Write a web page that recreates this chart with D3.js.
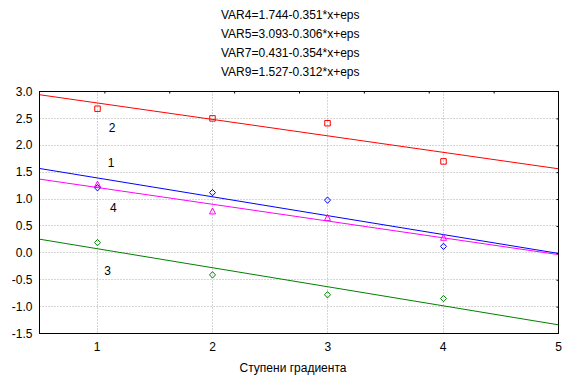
<!DOCTYPE html>
<html>
<head>
<meta charset="utf-8">
<script src="https://cdn.jsdelivr.net/npm/d3@7"></script>
<style>
    body { margin: 0; background: #fff; }
    svg { display: block; font-family: "Liberation Sans", Arial, sans-serif; }
    .grid line { stroke: #aaaaaa; stroke-dasharray: 1,2; }
</style>
</head>
<body>
<svg id="chart"></svg>
<script>
// gradient steps on the x axis
const gradientSteps = [1, 2, 3, 4];

// observed means per step
const var4Values = [1.21, 1.12, 0.98, 0.12];
const var5Values = [2.68, 2.50, 2.41, 1.70];
const var7Values = [0.19, -0.41, -0.78, -0.85];
const var9Values = [1.27, 0.77, 0.65, 0.28];

// fitted lines y = a + b*x
const seriesNames = ['VAR4', 'VAR5', 'VAR7', 'VAR9'];
const intercepts = [1.744, 3.093, 0.431, 1.527];
const slopes = [-0.351, -0.306, -0.354, -0.312];
const curveLabels = ['1', '2', '3', '4'];

const yTicks = [3.0, 2.5, 2.0, 1.5, 1.0, 0.5, 0.0, -0.5, -1.0, -1.5];
const xTicks = [1, 2, 3, 4, 5];

class regressionPlot {
    constructor(_config) {
        this.config = {
            parentElement: _config.parentElement,
            containerWidth: 576,
            containerHeight: 381,
            margin: { top: 91.5, right: 17.5, bottom: 47.5, left: 39.5 },
            xDomain: [0.5, 5],
            yDomain: [-1.5, 3.0],
            xLabel: 'Ступени градиента',
        };
        this.series = [
            { values: var4Values, color: '#0000ff', marker: 'diamond', labelAt: [1.12, 1.68] },
            { values: var5Values, color: '#ff0000', marker: 'square', labelAt: [1.13, 2.33] },
            { values: var7Values, color: '#008000', marker: 'diamond', labelAt: [1.09, -0.33] },
            { values: var9Values, color: '#ff00ff', marker: 'triangle', labelAt: [1.14, 0.84] },
        ].map((s, i) => ({ ...s, name: seriesNames[i], a: intercepts[i], b: slopes[i], label: curveLabels[i] }));
        this.initVis();
    }

    markerPath(type) {
        if (type === 'square') return 'M-2.75,-2.75H2.75V2.75H-2.75Z';
        if (type === 'triangle') return 'M0,-3.5L3,2.5H-3Z';
        return 'M0,-3.2L3,0L0,3.2L-3,0Z';
    }

    initVis() {
        let vis = this;
        const cfg = vis.config;

        vis.width = cfg.containerWidth - cfg.margin.left - cfg.margin.right;
        vis.height = cfg.containerHeight - cfg.margin.top - cfg.margin.bottom;

        vis.svg = d3.select(cfg.parentElement)
            .attr('width', cfg.containerWidth)
            .attr('height', cfg.containerHeight);

        vis.chart = vis.svg.append('g')
            .attr('transform', `translate(${cfg.margin.left}, ${cfg.margin.top})`);

        vis.xScale = d3.scaleLinear().domain(cfg.xDomain).range([0, vis.width]);
        vis.yScale = d3.scaleLinear().domain(cfg.yDomain).range([vis.height, 0]);

        // equations above the plot
        vis.svg.append('g')
            .selectAll('text')
            .data(vis.series)
            .join('text')
            .attr('x', 221)
            .attr('y', (d, i) => 18.5 + i * 19)
            .style('font-size', '12px')
            .text(d => `${d.name}=${d.a.toFixed(3)}-${Math.abs(d.b).toFixed(3)}*x+eps`);

        // dotted grid
        const grid = vis.chart.append('g').attr('class', 'grid');
        grid.selectAll('.hgrid')
            .data(yTicks.filter(t => t > cfg.yDomain[0] && t < cfg.yDomain[1]))
            .join('line')
            .attr('x1', 0).attr('x2', vis.width)
            .attr('y1', d => Math.round(vis.yScale(d)))
            .attr('y2', d => Math.round(vis.yScale(d)));
        grid.selectAll('.vgrid')
            .data(xTicks.filter(t => t < cfg.xDomain[1]))
            .join('line')
            .attr('y1', 0).attr('y2', vis.height)
            .attr('x1', d => Math.round(vis.xScale(d)))
            .attr('x2', d => Math.round(vis.xScale(d)));

        // fitted lines
        vis.chart.append('g')
            .selectAll('line')
            .data(vis.series)
            .join('line')
            .attr('x1', vis.xScale(cfg.xDomain[0]))
            .attr('x2', vis.xScale(cfg.xDomain[1]))
            .attr('y1', d => vis.yScale(d.a + d.b * cfg.xDomain[0]))
            .attr('y2', d => vis.yScale(d.a + d.b * cfg.xDomain[1]))
            .attr('stroke', d => d.color)
            .attr('stroke-width', 1);

        // observed points
        vis.series.forEach(s => {
            vis.chart.append('g')
                .selectAll('path')
                .data(s.values)
                .join('path')
                .attr('transform', (d, i) => `translate(${Math.round(vis.xScale(gradientSteps[i]))}, ${vis.yScale(d)})`)
                .attr('d', vis.markerPath(s.marker))
                .attr('fill', 'none')
                .attr('stroke', s.color)
                .attr('stroke-width', 1);
        });

        // curve numbers
        vis.chart.append('g')
            .selectAll('text')
            .data(vis.series)
            .join('text')
            .attr('x', d => vis.xScale(d.labelAt[0]))
            .attr('y', d => vis.yScale(d.labelAt[1]))
            .attr('dy', '0.35em')
            .attr('text-anchor', 'middle')
            .style('font-size', '12px')
            .text(d => d.label);

        // frame
        vis.chart.append('rect')
            .attr('width', vis.width)
            .attr('height', vis.height)
            .attr('fill', 'none')
            .attr('stroke', '#000');

        // small inner ticks on the right and top
        vis.chart.append('g')
            .attr('transform', `translate(${vis.width}, 0)`)
            .call(d3.axisLeft(vis.yScale).tickValues(yTicks.slice(1, -1)).tickSize(2).tickFormat(''))
            .call(g => g.select('.domain').remove());
        vis.topScale = d3.scaleLinear().domain([0, 8]).range([0, vis.width]);
        vis.chart.append('g')
            .call(d3.axisBottom(vis.topScale).tickValues(d3.range(1, 8)).tickSize(2).tickFormat(''))
            .call(g => g.select('.domain').remove());

        // y tick labels
        vis.chart.append('g')
            .selectAll('text')
            .data(yTicks)
            .join('text')
            .attr('x', -7)
            .attr('y', d => vis.yScale(d))
            .attr('dy', '0.35em')
            .attr('text-anchor', 'end')
            .style('font-size', '12px')
            .text(d => d.toFixed(1));

        // x tick labels
        vis.chart.append('g')
            .selectAll('text')
            .data(xTicks)
            .join('text')
            .attr('x', d => vis.xScale(d))
            .attr('y', vis.height + 13)
            .attr('dy', '0.35em')
            .attr('text-anchor', 'middle')
            .style('font-size', '12px')
            .text(d => d);

        vis.svg.append('text')
            .attr('x', 293)
            .attr('y', 368)
            .attr('dy', '0.35em')
            .attr('text-anchor', 'middle')
            .style('font-size', '12px')
            .text(cfg.xLabel);
    }
}

new regressionPlot({ parentElement: '#chart' });
</script>
</body>
</html>
